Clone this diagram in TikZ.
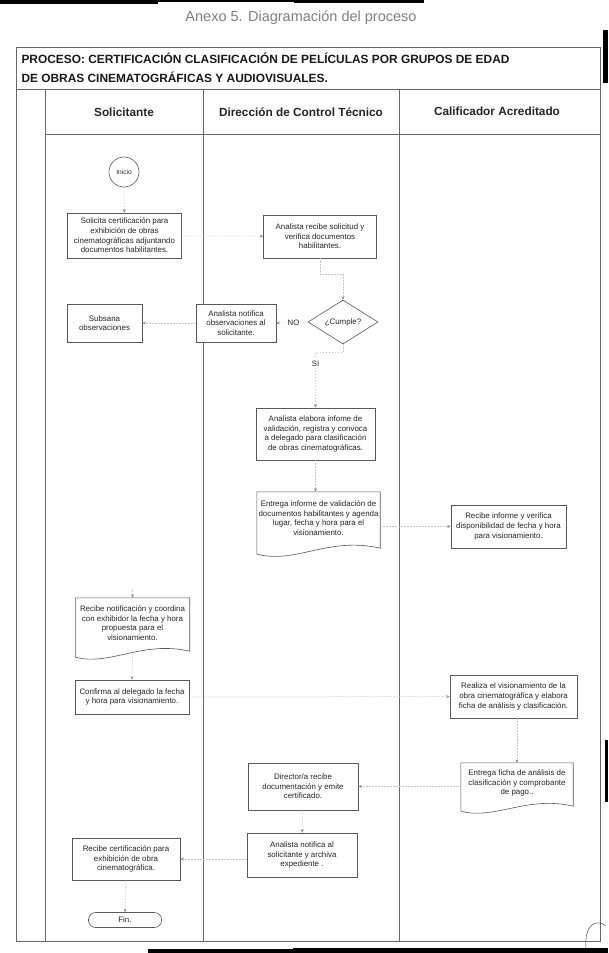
\documentclass[tikz,border=0pt]{standalone}
\usepackage{fontspec}
\setmainfont{Liberation Sans}
\usetikzlibrary{arrows.meta,shapes.geometric,calc}
\begin{document}
\begin{tikzpicture}[x=1pt,y=-1pt,
  frame/.style={draw=black!60,line width=0.8pt},
  boxline/.style={draw=black!65,line width=0.6pt},
  box/.style={boxline,fill=white,align=center,font=\fontsize{7.9}{9.6}\selectfont,text=black!85,inner sep=1pt},
  doctext/.style={align=center,font=\fontsize{7.9}{9.6}\selectfont,text=black!85,inner sep=1pt},
  conn/.style={draw=black!22,line width=0.5pt,dash pattern=on 1.5pt off 1.5pt,-{Stealth[length=3.5pt,width=3pt,black!45]}},
  lbl/.style={fill=white,font=\fontsize{7.8}{9}\selectfont,text=black!85,inner sep=1.5pt},
  lane/.style={font=\bfseries\fontsize{11.8}{13}\selectfont,text=black!85},
  ttl/.style={font=\bfseries\fontsize{11.9}{13}\selectfont,text=black!90,anchor=west}
]
\useasboundingbox (0,0) rectangle (608,953);
\fill[white] (0,0) rectangle (608,953);
% scan borders
\fill[black] (0,0) rectangle (158,4);
\fill[black] (158,0) rectangle (294,1.5);
\fill[black] (294,0) rectangle (424,3);
\fill[black] (603,30) rectangle (608,83);
\fill[black] (605,740) rectangle (608,802);
\fill[black] (148,949) rectangle (293,953);
\fill[black] (293,948) rectangle (608,953);
% page heading
\node[font=\fontsize{14.5}{16}\selectfont,text=black!50] (anexo) at (301,18) {Anexo 5. Diagramación del proceso};
% frame
\draw[frame] (16,47) rectangle (600,941);
\draw[frame] (16,89) -- (600,89);
\draw[frame] (45,134) -- (600,134);
\draw[frame] (45,89) -- (45,941);
\draw[frame] (203,89) -- (203,941);
\draw[frame] (399,89) -- (399,941);
\node[ttl] (t1) at (18,58) {PROCESO: CERTIFICACIÓN CLASIFICACIÓN DE PELÍCULAS POR GRUPOS DE EDAD};
\node[ttl] (t2) at (18,77) {DE OBRAS CINEMATOGRÁFICAS Y AUDIOVISUALES.};
\node[lane] (l1) at (124,112) {Solicitante};
\node[lane] (l2) at (301,112) {Dirección de Control Técnico};
\node[lane] (l3) at (497,111) {Calificador Acreditado};
% nodes
\node[box,circle,minimum size=30pt,font=\fontsize{6.6}{7.5}\selectfont] (inicio) at (124,172) {Inicio};
\node[box,minimum width=114pt,minimum height=45pt] (solicita) at (124.5,235.5) {Solicita certificación para\\exhibición de obras\\cinematográficas adjuntando\\documentos habilitantes.};
\node[box,minimum width=113pt,minimum height=43pt] (recibe) at (320,236.5) {Analista recibe solicitud y\\verifica documentos\\habilitantes.};
\node[box,diamond,aspect=1.6,minimum width=70pt,minimum height=44pt,inner sep=0pt] (cumple) at (343,322) {¿Cumple?};
\node[box,minimum width=80pt,minimum height=38pt] (notobs) at (236,323) {Analista notifica\\observaciones al\\solicitante.};
\node[box,minimum width=75pt,minimum height=38pt] (subsana) at (104.5,323) {Subsana\\observaciones};
\node[box,minimum width=119pt,minimum height=52pt] (elabora) at (315.5,434) {Analista elabora infome de\\validación, registra y convoca\\a delegado para clasificación\\de obras cinematográficas.};
\node[doctext,minimum width=123pt,minimum height=52pt] (entrega) at (318.5,518) {Entrega informe de validación de\\documentos habilitantes y agenda\\lugar, fecha y hora para el\\visionamiento.};
\node[box,minimum width=115pt,minimum height=43pt] (recinf) at (508.5,526.5) {Recibe informe y verifica\\disponibilidad de fecha y hora\\para visionamiento.};
\node[doctext,minimum width=114pt,minimum height=50pt] (recnot) at (132.5,623) {Recibe notificación y coordina\\con exhibidor la fecha y hora\\propuesta para el\\visionamiento.};
\node[box,minimum width=114pt,minimum height=34pt] (confirma) at (132,697) {Confirma al delegado la fecha\\y hora para visionamiento.};
\node[box,minimum width=127pt,minimum height=43pt] (realiza) at (513.5,696.5) {Realiza el visionamiento de la\\obra cinematográfica y elabora\\ficha de análisis y clasificación.};
\node[doctext,minimum width=112pt,minimum height=40pt] (ficha) at (517,783) {Entrega ficha de análisis de\\clasificación y comprobante\\de pago..};
\node[box,minimum width=110pt,minimum height=47pt] (director) at (303,786.5) {Director/a recibe\\documentación y emite\\certificado.};
\node[box,minimum width=110pt,minimum height=44pt] (notal) at (302,855) {Analista notifica al\\solicitante y archiva\\expediente .};
\node[box,minimum width=108pt,minimum height=42pt] (reccert) at (126,859) {Recibe certificación para\\exhibición de obra\\cinematográfica.};
\node[box,rounded corners=7pt,minimum width=73pt,minimum height=15pt] (fin) at (125,920) {Fin.};
% document outlines
\draw[boxline] (entrega.north west) -- (entrega.north east) -- ($(entrega.south east)+(0,4)$)
  .. controls ($(entrega.south)+(10,-8)$) and ($(entrega.south)+(-22,20)$) .. ($(entrega.south west)+(0,10)$) -- cycle;
\draw[boxline] (recnot.north west) -- (recnot.north east) -- ($(recnot.south east)+(0,3)$)
  .. controls ($(recnot.south)+(10,-8)$) and ($(recnot.south)+(-22,18)$) .. ($(recnot.south west)+(0,9)$) -- cycle;
\draw[boxline] (ficha.north west) -- (ficha.north east) -- ($(ficha.south east)+(0,3)$)
  .. controls ($(ficha.south)+(10,-8)$) and ($(ficha.south)+(-22,17)$) .. ($(ficha.south west)+(0,8)$) -- cycle;
% stubs
\coordinate (s1) at (132.5,590);
% connectors
\draw[conn] (inicio) -- (solicita);
\draw[conn] (solicita) -- (recibe);
\draw[conn] (recibe.south) -- ++(0,16) -| (cumple.north);
\draw[conn] (cumple.west) -- node[lbl,pos=0.45]{NO} (notobs.east);
\draw[conn] (notobs) -- (subsana);
\draw[conn] (cumple.south) -- ++(0,8) -| node[lbl,pos=0.6]{SI} (elabora.north);
\draw[conn] (elabora.south) -- (elabora.south |- entrega.north);
\draw[conn] (entrega.east |- recinf) -- (recinf.west);
\draw[conn] (s1) -- (recnot.north);
\draw[conn] ($(recnot.south)+(0,6)$) -- (confirma.north);
\draw[conn] (confirma) -- (realiza);
\draw[conn] (ficha.north |- realiza.south) -- (ficha.north);
\draw[conn] (ficha.west |- director) -- (director.east);
\draw[conn] (director) -- (notal);
\draw[conn] (notal.west |- reccert) -- (reccert.east);
\draw[conn] (reccert) -- (fin);
% stamp mark
\draw[black!70,line width=0.5pt] (586,948) .. controls (584,925) and (596,918) .. (606,926);
\end{tikzpicture}
\end{document}
